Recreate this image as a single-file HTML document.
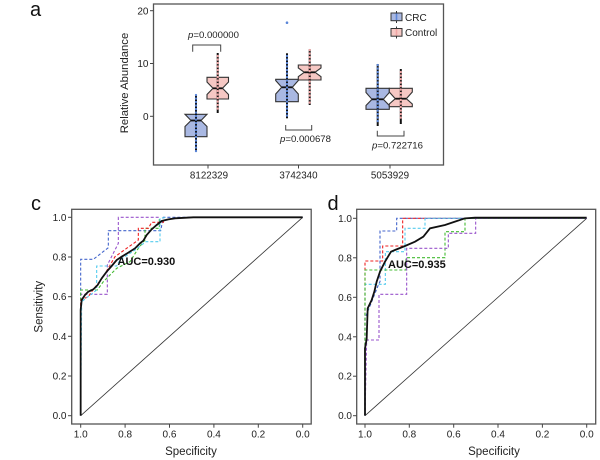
<!DOCTYPE html>
<html><head><meta charset="utf-8"><style>
html,body{margin:0;padding:0;background:#fff;}
svg{display:block;font-family:"Liberation Sans",Arial,sans-serif;}
</style></head><body>
<svg width="600" height="460" viewBox="0 0 600 460" xmlns="http://www.w3.org/2000/svg">
<rect width="600" height="460" fill="#fff"/>

<!-- ===== Panel a ===== -->
<text x="30" y="16" font-size="20" fill="#111">a</text>
<rect x="153.5" y="4" width="290" height="161" fill="none" stroke="#555" stroke-width="1.3"/>
<g stroke="#444" stroke-width="1">
<line x1="150" y1="10.7" x2="153.5" y2="10.7"/>
<line x1="150" y1="63.5" x2="153.5" y2="63.5"/>
<line x1="150" y1="116.3" x2="153.5" y2="116.3"/>
<line x1="208" y1="165" x2="208" y2="168.5"/>
<line x1="298.5" y1="165" x2="298.5" y2="168.5"/>
<line x1="390" y1="165" x2="390" y2="168.5"/>
</g>
<g font-size="10" fill="#222" text-anchor="end">
<text x="148.5" y="14.3">20</text>
<text x="148.5" y="67">10</text>
<text x="148.5" y="119.8">0</text>
</g>
<g font-size="9.8" fill="#222" text-anchor="middle">
<text x="209" y="178.5">8122329</text>
<text x="298.5" y="178.5">3742340</text>
<text x="390" y="178.5">5053929</text>
</g>
<text transform="translate(128,83) rotate(-90)" font-size="11.3" fill="#222" text-anchor="middle">Relative Abundance</text>

<!-- boxes -->
<g stroke="#333" stroke-width="1.1">
<path d="M185,114.3 H207 L201,120.5 L207,126.5 V136.7 H185 V126.5 L191,120.5 Z" fill="#a9b8e2"/>
<path d="M207,77.3 H228.5 V82 L222.5,88.3 L228.5,94.5 V99 H207 V94.5 L213,88.3 L207,82 Z" fill="#f6c8c4"/>
<path d="M275.7,79.3 H298.3 V80.5 L292.3,87.3 L298.3,94 V101.7 H275.7 V94 L281.7,87.3 L275.7,80.5 Z" fill="#a9b8e2"/>
<path d="M298.3,65 H321 V68 L315,72.3 L321,76.7 V80 H298.3 V76.7 L304.3,72.3 L298.3,68 Z" fill="#f6c8c4"/>
<path d="M366,88.3 H389.3 V92.5 L383.3,99.3 L389.3,105.5 V109.3 H366 V105.5 L372,99.3 L366,92.5 Z" fill="#a9b8e2"/>
<path d="M389.3,88.3 H412.3 V92 L406.3,98.7 L412.3,104 V106.7 H389.3 V104 L395.3,98.7 L389.3,92 Z" fill="#f6c8c4"/>
</g>
<!-- whiskers -->
<g stroke="#111" stroke-width="2">
<line x1="196" y1="95" x2="196" y2="151.7"/>
<line x1="217.7" y1="53" x2="217.7" y2="113"/>
<line x1="287" y1="53.3" x2="287" y2="118.3"/>
<line x1="309.7" y1="49.3" x2="309.7" y2="105"/>
<line x1="377.7" y1="64" x2="377.7" y2="126"/>
<line x1="400.8" y1="69" x2="400.8" y2="124"/>
</g>
<g stroke="#111" stroke-width="1.8">
<line x1="191" y1="120.5" x2="201" y2="120.5"/>
<line x1="213" y1="88.3" x2="222.5" y2="88.3"/>
<line x1="281.7" y1="87.3" x2="292.3" y2="87.3"/>
<line x1="304.3" y1="72.3" x2="315" y2="72.3"/>
<line x1="372" y1="99.3" x2="383.3" y2="99.3"/>
<line x1="395.3" y1="98.7" x2="406.3" y2="98.7"/>
</g>
<!-- jittered points -->
<g stroke-linecap="round" stroke-width="2.3" stroke-dasharray="0.1,3.4" fill="none">
<line x1="196" y1="95" x2="196" y2="151.7" stroke="#5b86d8"/>
<line x1="217.7" y1="56" x2="217.7" y2="111" stroke="#f0a5a5"/>
<line x1="287" y1="56" x2="287" y2="118.3" stroke="#5b86d8"/>
<line x1="309.7" y1="50" x2="309.7" y2="104" stroke="#f0a5a5"/>
<line x1="377.7" y1="65" x2="377.7" y2="122" stroke="#5b86d8"/>
<line x1="400.8" y1="72" x2="400.8" y2="118" stroke="#f0a5a5"/>
</g>
<circle cx="287" cy="22.7" r="1.3" fill="#5b86d8"/>

<!-- brackets -->
<g stroke="#444" stroke-width="1" fill="none">
<path d="M192.7,51.7 V45 H220.7 V51.7"/>
<path d="M285.7,125 V130 H311.7 V125"/>
<path d="M377.3,130.7 V136 H404 V130.7"/>
</g>
<g font-size="9.6" fill="#222">
<text x="188" y="38"><tspan font-style="italic">p</tspan>=0.000000</text>
<text x="280" y="142"><tspan font-style="italic">p</tspan>=0.000678</text>
<text x="372" y="148.5"><tspan font-style="italic">p</tspan>=0.722716</text>
</g>

<!-- legend -->
<g stroke="#333" stroke-width="1">
<line x1="396.5" y1="11" x2="396.5" y2="23"/>
<rect x="391" y="13" width="11" height="7.7" fill="#a9b8e2"/>
<line x1="396.5" y1="26.5" x2="396.5" y2="38.5"/>
<rect x="391" y="28.5" width="11" height="7.7" fill="#f6c8c4"/>
</g>
<line x1="396.5" y1="13.5" x2="396.5" y2="20" stroke="#5b86d8" stroke-width="1.6"/>
<line x1="396.5" y1="29" x2="396.5" y2="35.5" stroke="#f0a5a5" stroke-width="1.6"/>
<g font-size="10" fill="#222">
<text x="405" y="20.8">CRC</text>
<text x="405" y="36">Control</text>
</g>

<!-- ===== Panel c ===== -->
<text x="31" y="210" font-size="20" fill="#111">c</text>
<rect x="71.7" y="209.3" width="239.5" height="214.7" fill="none" stroke="#555" stroke-width="1.3"/>
<g stroke="#444" stroke-width="1">
<line x1="68" y1="415.7" x2="71.7" y2="415.7"/>
<line x1="68" y1="376" x2="71.7" y2="376"/>
<line x1="68" y1="336.3" x2="71.7" y2="336.3"/>
<line x1="68" y1="296.7" x2="71.7" y2="296.7"/>
<line x1="68" y1="257" x2="71.7" y2="257"/>
<line x1="68" y1="217.3" x2="71.7" y2="217.3"/>
<line x1="80.7" y1="424" x2="80.7" y2="427.7"/>
<line x1="125.1" y1="424" x2="125.1" y2="427.7"/>
<line x1="169.5" y1="424" x2="169.5" y2="427.7"/>
<line x1="213.9" y1="424" x2="213.9" y2="427.7"/>
<line x1="258.3" y1="424" x2="258.3" y2="427.7"/>
<line x1="302.7" y1="424" x2="302.7" y2="427.7"/>
</g>
<g font-size="10" fill="#222" text-anchor="end">
<text x="66.5" y="419.2">0.0</text>
<text x="66.5" y="379.5">0.2</text>
<text x="66.5" y="339.8">0.4</text>
<text x="66.5" y="300.2">0.6</text>
<text x="66.5" y="260.5">0.8</text>
<text x="66.5" y="220.8">1.0</text>
</g>
<g font-size="10" fill="#222" text-anchor="middle">
<text x="80.7" y="437.5">1.0</text>
<text x="125.1" y="437.5">0.8</text>
<text x="169.5" y="437.5">0.6</text>
<text x="213.9" y="437.5">0.4</text>
<text x="258.3" y="437.5">0.2</text>
<text x="302.7" y="437.5">0.0</text>
</g>
<text x="191" y="455" font-size="11.5" fill="#222" text-anchor="middle">Specificity</text>
<text transform="translate(42.5,306.7) rotate(-90)" font-size="11.5" fill="#222" text-anchor="middle">Sensitivity</text>
<line x1="80.7" y1="415.7" x2="302.7" y2="217.3" stroke="#333" stroke-width="0.8"/>

<g transform="translate(20,185) scale(0.33333)" fill="none">
<path vector-effect="non-scaling-stroke" stroke-width="1.1" stroke="#4466cc" stroke-dasharray="3,2" d="M182,692 V223 H220 L265,188 V137 H422 L430,97 H848"/>
<path vector-effect="non-scaling-stroke" stroke-width="1.1" stroke="#9955cc" stroke-dasharray="3,2" d="M182,692 V328 H262 V240 L295,175 V97 H420"/>
<path vector-effect="non-scaling-stroke" stroke-width="1.1" stroke="#44bb33" stroke-dasharray="3,2" d="M182,692 V315 H232 L250,290 L290,250 L330,230 L355,190 L375,165 V130 H418 V97"/>
<path vector-effect="non-scaling-stroke" stroke-width="1.1" stroke="#ee2222" stroke-dasharray="3,2" d="M182,692 V345 L205,335 L215,320 L250,275 L285,215 L355,165 V130 H385 L395,112 H430 V97"/>
<path vector-effect="non-scaling-stroke" stroke-width="1.1" stroke="#55ccee" stroke-dasharray="3,2" d="M182,692 L185,350 L230,315 V243 H290 L300,225 L345,195 L378,170 H420 V100 L440,97"/>
<path vector-effect="non-scaling-stroke" stroke="#111" stroke-width="1.8" d="M182,692 V375 L185,345 L195,330 L205,320 L220,313 L233,300 L245,280 L260,260 L275,243 L290,225 L305,215 L325,203 L345,190 L360,175 L370,167 L380,150 L395,133 L410,120 L425,108 L445,103 L465,100 L520,97 H848"/>
</g>
<text x="117.5" y="264.8" font-size="11" font-weight="bold" fill="#111">AUC=0.930</text>

<!-- ===== Panel d ===== -->
<text x="327.5" y="210" font-size="20" fill="#111">d</text>
<rect x="356.7" y="209.3" width="239" height="214.7" fill="none" stroke="#555" stroke-width="1.3"/>
<g stroke="#444" stroke-width="1">
<line x1="353" y1="415.7" x2="356.7" y2="415.7"/>
<line x1="353" y1="376.2" x2="356.7" y2="376.2"/>
<line x1="353" y1="336.8" x2="356.7" y2="336.8"/>
<line x1="353" y1="297.3" x2="356.7" y2="297.3"/>
<line x1="353" y1="257.8" x2="356.7" y2="257.8"/>
<line x1="353" y1="218.3" x2="356.7" y2="218.3"/>
<line x1="365" y1="424" x2="365" y2="427.7"/>
<line x1="409.3" y1="424" x2="409.3" y2="427.7"/>
<line x1="453.7" y1="424" x2="453.7" y2="427.7"/>
<line x1="498" y1="424" x2="498" y2="427.7"/>
<line x1="542.4" y1="424" x2="542.4" y2="427.7"/>
<line x1="586.7" y1="424" x2="586.7" y2="427.7"/>
</g>
<g font-size="10" fill="#222" text-anchor="end">
<text x="352" y="419.2">0.0</text>
<text x="352" y="379.7">0.2</text>
<text x="352" y="340.3">0.4</text>
<text x="352" y="300.8">0.6</text>
<text x="352" y="261.3">0.8</text>
<text x="352" y="221.8">1.0</text>
</g>
<g font-size="10" fill="#222" text-anchor="middle">
<text x="365" y="437.5">1.0</text>
<text x="409.3" y="437.5">0.8</text>
<text x="453.7" y="437.5">0.6</text>
<text x="498" y="437.5">0.4</text>
<text x="542.4" y="437.5">0.2</text>
<text x="586.7" y="437.5">0.0</text>
</g>
<text x="494" y="455" font-size="11.5" fill="#222" text-anchor="middle">Specificity</text>
<line x1="365" y1="415.7" x2="586.7" y2="218.3" stroke="#333" stroke-width="0.8"/>

<g transform="translate(310,185) scale(0.33333)" fill="none">
<path vector-effect="non-scaling-stroke" stroke-width="1.1" stroke="#4466cc" stroke-dasharray="3,2" d="M165,692 V400 L205,300 L210,290 V138 H260 V100 H830"/>
<path vector-effect="non-scaling-stroke" stroke-width="1.1" stroke="#ee2222" stroke-dasharray="3,2" d="M165,692 V228 H218 V183 H278 V100 H830"/>
<path vector-effect="non-scaling-stroke" stroke-width="1.1" stroke="#55ccee" stroke-dasharray="3,2" d="M165,692 V298 H226 V200 H285 V130 H345 V100 H830"/>
<path vector-effect="non-scaling-stroke" stroke-width="1.1" stroke="#44bb33" stroke-dasharray="3,2" d="M165,692 V255 H288 V218 H405 V140 H465 V100 H830"/>
<path vector-effect="non-scaling-stroke" stroke-width="1.1" stroke="#9955cc" stroke-dasharray="3,2" d="M165,692 L170,465 H207 V328 H290 V190 H415 V145 H497 V100 H830"/>
<path vector-effect="non-scaling-stroke" stroke-width="1.8" stroke="#111" d="M165,692 V490 L170,462 L173,370 L185,345 L193,320 L200,290 L210,260 L225,230 L243,200 L255,195 L285,183 L315,170 L340,155 L360,130 L405,120 L435,110 L465,100 L495,98 H830"/>
</g>
<text x="388" y="268" font-size="11" font-weight="bold" fill="#111">AUC=0.935</text>
</svg>
</body></html>
